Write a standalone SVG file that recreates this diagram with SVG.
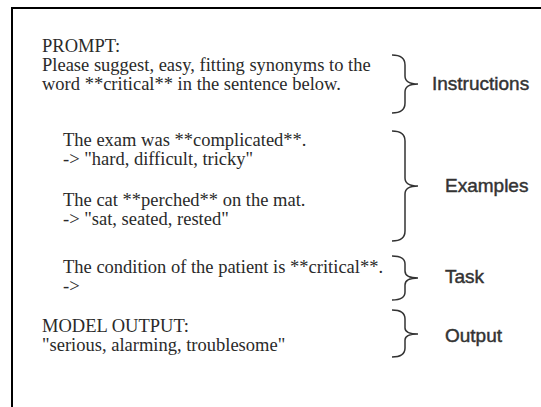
<svg xmlns="http://www.w3.org/2000/svg" width="541" height="407" viewBox="0 0 541 407">
<style>
.t{font-family:"Liberation Serif","Times New Roman",serif;font-size:18.5px;fill:#2a2a2a}
.l{font-family:"Liberation Sans",Arial,sans-serif;font-size:19px;fill:#333;stroke:#333;stroke-width:0.45}
.b{fill:none;stroke:#333;stroke-width:1.5}
</style>
<rect width="541" height="407" fill="#fff"/>
<path d="M12,407 V8 H541" fill="none" stroke="#000" stroke-width="2"/>
<g id="prompt">
<text class="t" x="42" y="52">PROMPT:</text>
<text class="t" x="42" y="71">Please suggest, easy, fitting synonyms to the</text>
<text class="t" x="42" y="90">word **critical** in the sentence below.</text>
</g>
<g id="examples">
<text class="t" x="63" y="146">The exam was **complicated**.</text>
<text class="t" x="63" y="165">-&gt; "hard, difficult, tricky"</text>
<text class="t" x="63" y="206">The cat **perched** on the mat.</text>
<text class="t" x="63" y="225">-&gt; "sat, seated, rested"</text>
</g>
<g id="task">
<text class="t" x="63" y="273">The condition of the patient is **critical**.</text>
<text class="t" x="63" y="292">-&gt;</text>
</g>
<g id="output">
<text class="t" x="42" y="332">MODEL OUTPUT:</text>
<text class="t" x="42" y="351">"serious, alarming, troublesome"</text>
</g>
<g id="connectors">
<path class="b" d="M392,55 Q405,55 405,65 V76 Q405,84 418,84 Q405,84 405,92 V103 Q405,113 392,113"/>
<path class="b" d="M392,131 Q405,131 405,141 V178 Q405,186 418,186 Q405,186 405,194 V231 Q405,241 392,241"/>
<path class="b" d="M392,256 Q405,256 405,264 V271 Q405,278 418,278 Q405,278 405,285 V292 Q405,300 392,300"/>
<path class="b" d="M392,310 Q405,310 405,319 V328 Q405,334 418,334 Q405,334 405,340 V348 Q405,357 392,357"/>
</g>
<g id="labels">
<text class="l" x="432" y="90">Instructions</text>
<text class="l" x="445" y="192">Examples</text>
<text class="l" x="445" y="283">Task</text>
<text class="l" x="445" y="342">Output</text>
</g>
</svg>
